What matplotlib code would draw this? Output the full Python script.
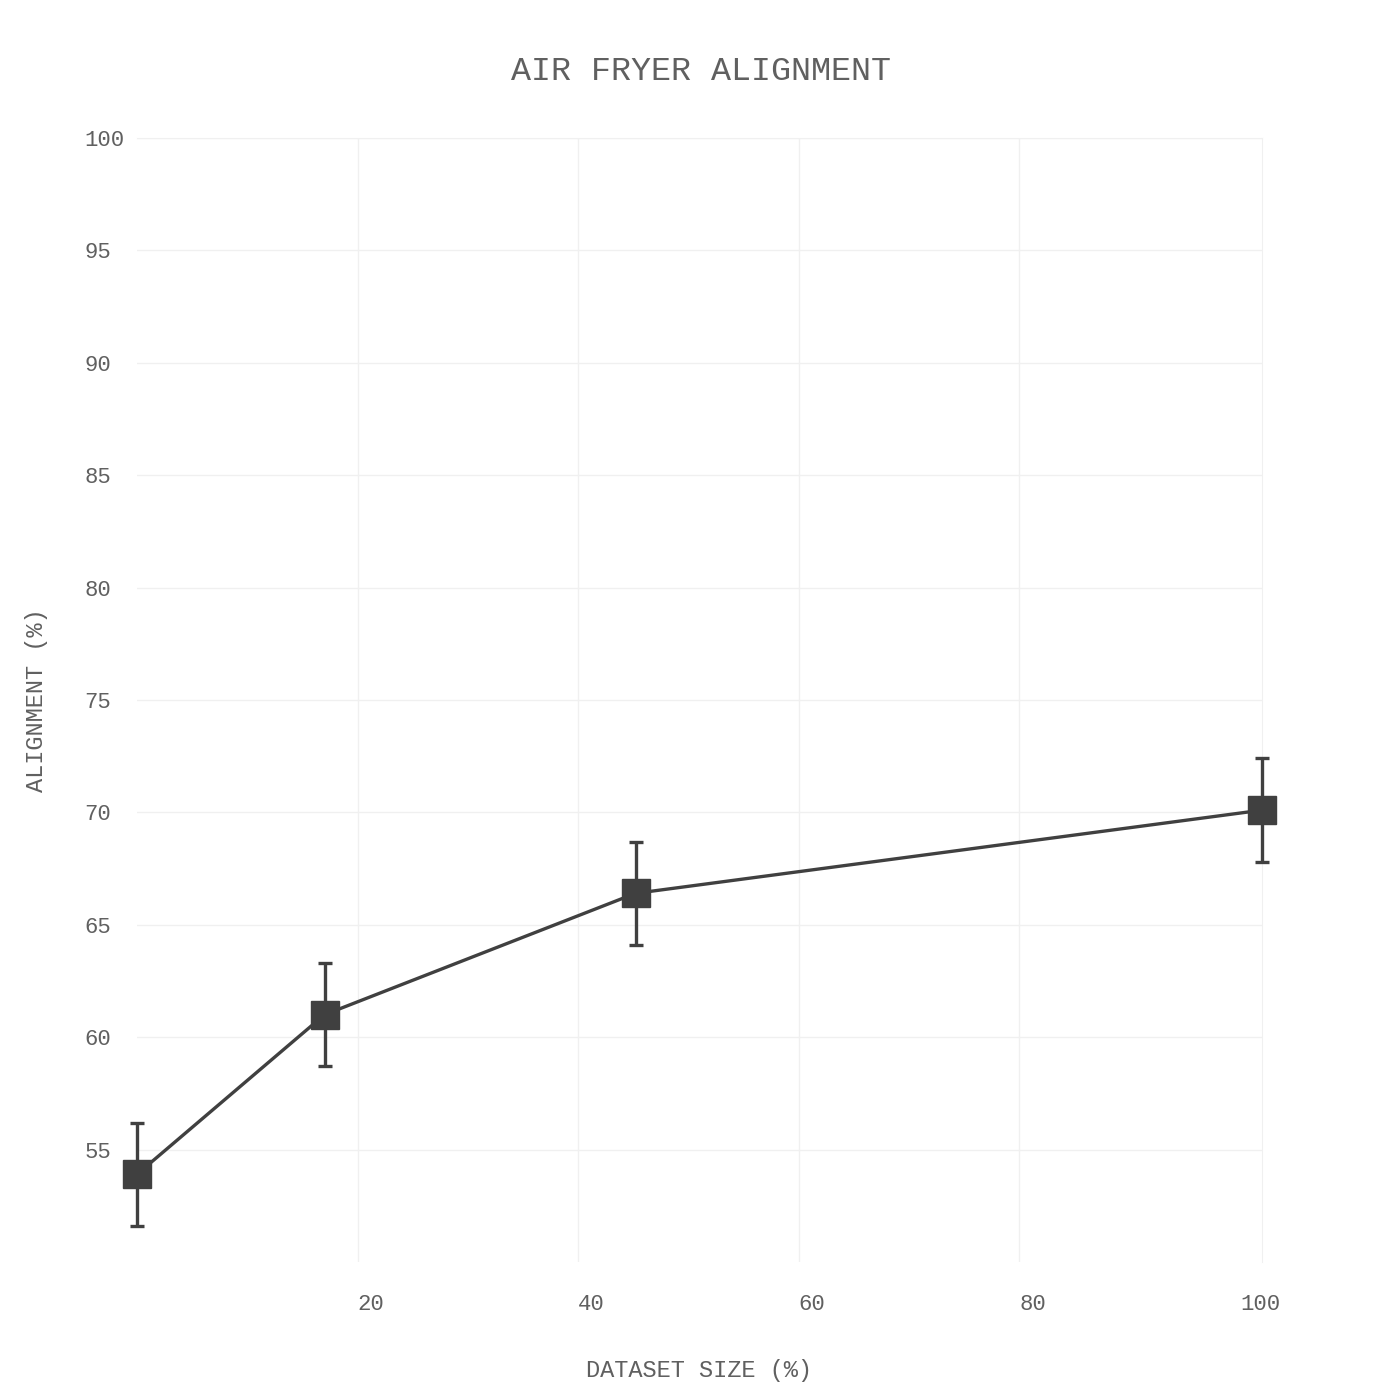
import matplotlib
matplotlib.use('Agg')
import matplotlib.pyplot as plt

# data
dataset_size = [0, 17, 45.2, 102]
alignment = [53.9, 61.0, 66.4, 70.1]
alignment_err = [2.3, 2.3, 2.3, 2.3]
xtick_values = [20, 40, 60, 80, 100]
ytick_values = [55, 60, 65, 70, 75, 80, 85, 90, 95, 100]

ink = '#404040'
text_color = '#606060'
grid_color = '#f0f0f0'
mono = ['Liberation Mono', 'DejaVu Sans Mono']

fig = plt.figure(figsize=(14, 14), dpi=100)
ax = fig.add_axes([137/1400, 1 - 1262/1400, 1125/1400, 1124/1400])

ax.errorbar(dataset_size, alignment, yerr=alignment_err, color=ink, linewidth=2.4,
            marker='s', markersize=20, markerfacecolor=ink, markeredgecolor=ink,
            ecolor=ink, elinewidth=2.4, capsize=5, capthick=2.4, clip_on=False, zorder=3)

ax.set_xlim(0, 102)
ax.set_ylim(50, 100)

ax.set_xticks(xtick_values)
ax.set_yticks(ytick_values)
ax.grid(True, color=grid_color, linewidth=1)
ax.set_axisbelow(True)
# the reference draws no gridline at the 100 tick, only the frame edge
ax.get_xgridlines()[-1].set_visible(False)
for s in ['top', 'right']:
    ax.spines[s].set_color(grid_color)
for s in ['left', 'bottom']:
    ax.spines[s].set_visible(False)

ax.tick_params(axis='both', length=0, labelcolor=text_color, labelsize=16)
ax.tick_params(axis='x', pad=23)
ax.tick_params(axis='y', pad=38)
for lab in ax.get_xticklabels():
    lab.set_horizontalalignment('left')
    lab.set_family(mono)
for lab in ax.get_yticklabels():
    lab.set_horizontalalignment('left')
    lab.set_family(mono)

ax.set_xlabel('DATASET SIZE (%)', family=mono, fontsize=17, color=text_color)
ax.set_ylabel('ALIGNMENT (%)', family=mono, fontsize=17, color=text_color)
ax.xaxis.set_label_coords(0.5, -0.086)
ax.yaxis.set_label_coords(-0.079, 0.5)

fig.text(701/1400, 1 - 71/1400, 'AIR FRYER ALIGNMENT', family=mono, fontsize=24,
         color=text_color, ha='center', va='center')

fig.savefig('out.png', dpi=100, facecolor='white')
